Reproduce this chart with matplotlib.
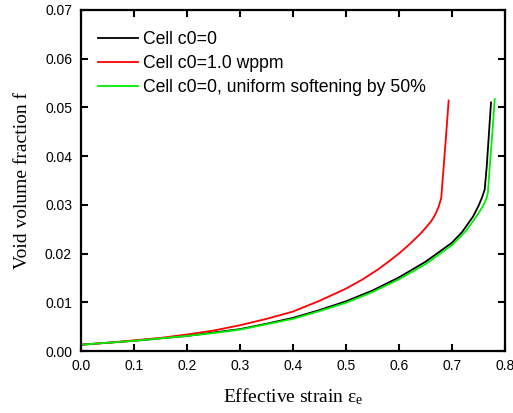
import matplotlib
matplotlib.use("Agg")
import matplotlib.pyplot as plt

plt.rcParams['font.family'] = ['Liberation Sans', 'DejaVu Sans']
plt.rcParams['mathtext.fontset'] = 'custom'
plt.rcParams['mathtext.rm'] = 'Liberation Serif'
plt.rcParams['mathtext.it'] = 'Liberation Serif:italic'

# Data
strain_c0 = [0.0, 0.05, 0.1, 0.15, 0.2, 0.25, 0.3, 0.35, 0.4, 0.45, 0.5, 0.55, 0.6, 0.65, 0.7,
             0.72, 0.74, 0.75, 0.757, 0.762, 0.766, 0.770, 0.774]
f_c0 = [0.0013, 0.0017, 0.0021, 0.0026, 0.0031, 0.0038, 0.0045, 0.0056, 0.0068, 0.0084, 0.0102,
        0.0124, 0.0151, 0.0183, 0.0222, 0.0245, 0.0276, 0.0297, 0.0315, 0.0331, 0.0380, 0.0445, 0.0510]

strain_h = [0.0, 0.05, 0.1, 0.15, 0.2, 0.25, 0.3, 0.35, 0.4, 0.45, 0.5, 0.53, 0.56, 0.58, 0.6,
            0.62, 0.64, 0.65, 0.66, 0.665, 0.67, 0.675, 0.68, 0.684, 0.689, 0.694]
f_h = [0.0013, 0.0017, 0.0022, 0.0027, 0.0034, 0.0042, 0.0053, 0.0066, 0.0081, 0.0103, 0.0128,
       0.0146, 0.0167, 0.0183, 0.0200, 0.0219, 0.0240, 0.0252, 0.0265, 0.0273, 0.0283, 0.0296,
       0.0314, 0.0370, 0.0440, 0.0514]

strain_soft = [0.0, 0.05, 0.1, 0.15, 0.2, 0.25, 0.3, 0.35, 0.4, 0.45, 0.5, 0.55, 0.6, 0.65, 0.7,
               0.728, 0.75, 0.76, 0.765, 0.768, 0.772, 0.777, 0.781]
f_soft = [0.0013, 0.0017, 0.0021, 0.0026, 0.0031, 0.0037, 0.0044, 0.0055, 0.0066, 0.0082, 0.0099,
          0.0121, 0.0147, 0.0178, 0.0217, 0.0248, 0.0282, 0.0300, 0.0312, 0.0324, 0.0385, 0.0455, 0.0517]

labels = ['Cell c0=0', 'Cell c0=1.0 wppm', 'Cell c0=0, uniform softening by 50%']
colors = ['black', 'red', '#00ee00']

x_ticks = [0.0, 0.1, 0.2, 0.3, 0.4, 0.5, 0.6, 0.7, 0.8]
y_ticks = [0.00, 0.01, 0.02, 0.03, 0.04, 0.05, 0.06, 0.07]

fig = plt.figure(figsize=(5.13, 4.13), dpi=100)
ax = fig.add_axes([0.158, 0.150, 0.826, 0.826])

ax.plot(strain_c0, f_c0, color=colors[0], lw=1.3, label=labels[0])
ax.plot(strain_h, f_h, color=colors[1], lw=1.3, label=labels[1])
ax.plot(strain_soft, f_soft, color=colors[2], lw=1.3, label=labels[2])

ax.set_xlim(0, 0.8)
ax.set_ylim(0, 0.07)
ax.set_xticks(x_ticks)
ax.set_yticks(y_ticks)
ax.set_xticklabels([f'{v:.1f}' for v in x_ticks])
ax.set_yticklabels([f'{v:.2f}' for v in y_ticks])
ax.tick_params(direction='in', length=5, width=1.5, labelsize=10, top=True, right=True)
ax.tick_params(axis='x', pad=6)
ax.tick_params(axis='y', pad=6.5)
for s in ax.spines.values():
    s.set_linewidth(1.6)

ax.set_xlabel(r'Effective strain $\mathrm{\varepsilon_e}$', family='Liberation Serif', fontsize=14, labelpad=9)
ax.set_ylabel('Void volume fraction f', family='Liberation Serif', fontsize=14, labelpad=10)

ax.legend(loc='upper left', bbox_to_anchor=(0.040, 0.937), frameon=False, fontsize=12.7,
          borderaxespad=0, borderpad=0, handlelength=2.25, handletextpad=0.3, labelspacing=0.38)

fig.savefig('out.png', dpi=100)
